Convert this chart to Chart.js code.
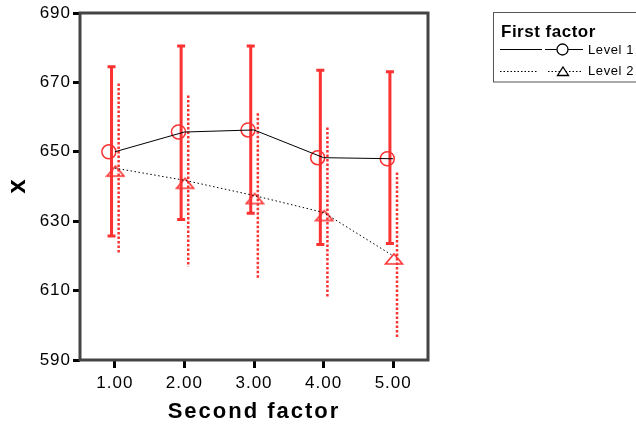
<!DOCTYPE html>
<html>
<head>
<meta charset="utf-8">
<script src="https://cdn.jsdelivr.net/npm/chart.js@4"></script>
<style>
  body { margin: 0; background: #fff; }
</style>
</head>
<body>
<canvas id="myChart" width="636" height="424"></canvas>
<script>
// datos
const categories = [1, 2, 3, 4, 5];
const tickLabels = ['1.00', '2.00', '3.00', '4.00', '5.00'];
const yTicks = [590, 610, 630, 650, 670, 690];

const level1Means = [650.0, 655.7, 656.3, 648.3, 648.0];
const level1Upper = [674.5, 680.5, 680.5, 673.5, 673.1];
const level1Lower = [625.7, 630.5, 632.3, 623.3, 623.6];

const level2Means = [645.3, 641.8, 637.4, 632.5, 620.0];
const level2Upper = [669.7, 666.2, 661.1, 657.0, 644.0];
const level2Lower = [620.9, 616.9, 613.4, 608.1, 596.3];

// desplazamientos horizontales (unidades del eje x)
const circleShift = -0.085;
const triangleShift = 0.01;
const bar1Shift = -0.047;
const bar2Shift = 0.055;

const red = 'rgb(250, 50, 50)';
const font = 'Liberation Sans';

// triangulo como imagen (el punto queda cerca del vertice superior)
const tri = document.createElement('canvas');
tri.width = 20;
tri.height = 26;
{
  const t = tri.getContext('2d');
  t.strokeStyle = red;
  t.lineWidth = 1.6;
  t.beginPath();
  t.moveTo(10, 11);
  t.lineTo(18.5, 21);
  t.lineTo(1.5, 21);
  t.closePath();
  t.stroke();
}

const errorBars = {
  id: 'errorBars',
  beforeDatasetsDraw(chart) {
    const ctx = chart.ctx;
    const xs = chart.scales.x;
    const ys = chart.scales.y;
    ctx.save();
    ctx.strokeStyle = red;
    // nivel 1: barras solidas con remates
    ctx.lineWidth = 3;
    categories.forEach((c, i) => {
      const x = xs.getPixelForValue(c + bar1Shift);
      const yt = ys.getPixelForValue(level1Upper[i]);
      const yb = ys.getPixelForValue(level1Lower[i]);
      ctx.beginPath();
      ctx.moveTo(x, yt); ctx.lineTo(x, yb);
      ctx.moveTo(x - 4, yt); ctx.lineTo(x + 4, yt);
      ctx.moveTo(x - 4, yb); ctx.lineTo(x + 4, yb);
      ctx.stroke();
    });
    // nivel 2: barras punteadas
    ctx.lineWidth = 2.5;
    ctx.setLineDash([2.5, 2]);
    categories.forEach((c, i) => {
      const x = xs.getPixelForValue(c + bar2Shift);
      const yt = ys.getPixelForValue(level2Upper[i]);
      const yb = ys.getPixelForValue(level2Lower[i]);
      ctx.beginPath();
      ctx.moveTo(x, yt); ctx.lineTo(x, yb);
      ctx.stroke();
    });
    ctx.restore();
  }
};

const decor = {
  id: 'decor',
  beforeDraw(chart) {
    chart.ctx.letterSpacing = '1px';
  },
  afterDraw(chart) {
    const ctx = chart.ctx;
    const a = chart.chartArea;
    ctx.save();
    // marco
    ctx.strokeStyle = '#444';
    ctx.lineWidth = 3;
    ctx.strokeRect(a.left, a.top, a.right - a.left, a.bottom - a.top);

    // titulos de ejes
    ctx.fillStyle = '#000';
    ctx.letterSpacing = '2px';
    ctx.font = 'bold 22px "' + font + '"';
    ctx.textAlign = 'center';
    ctx.textBaseline = 'alphabetic';
    ctx.fillText('Second factor', (a.left + a.right) / 2, 418);
    ctx.save();
    ctx.letterSpacing = '0px';
    ctx.translate(25, (a.top + a.bottom) / 2);
    ctx.rotate(-Math.PI / 2);
    ctx.font = 'bold 26px "' + font + '"';
    ctx.fillText('x', 0, 0);
    ctx.restore();

    // leyenda
    ctx.strokeStyle = '#555';
    ctx.lineWidth = 1;
    ctx.strokeRect(493.5, 12.5, 150, 69.5);
    ctx.letterSpacing = '0.5px';
    ctx.font = 'bold 17px "' + font + '"';
    ctx.textAlign = 'left';
    ctx.fillText('First factor', 501, 37);

    ctx.strokeStyle = '#000';
    ctx.beginPath();
    ctx.moveTo(500, 49.5); ctx.lineTo(542, 49.5);
    ctx.moveTo(545, 49.5); ctx.lineTo(583, 49.5);
    ctx.stroke();
    ctx.setLineDash([1.5, 2]);
    ctx.beginPath();
    ctx.moveTo(500, 71.5); ctx.lineTo(538, 71.5);
    ctx.moveTo(548, 71.5); ctx.lineTo(583, 71.5);
    ctx.stroke();
    ctx.setLineDash([]);
    ctx.lineWidth = 1.3;
    ctx.fillStyle = '#fff';
    ctx.beginPath();
    ctx.arc(562.5, 49.5, 5.5, 0, Math.PI * 2);
    ctx.fill();
    ctx.stroke();
    ctx.beginPath();
    ctx.moveTo(563, 67); ctx.lineTo(568.5, 75.5); ctx.lineTo(557.5, 75.5); ctx.closePath();
    ctx.fill();
    ctx.stroke();

    ctx.fillStyle = '#000';
    ctx.letterSpacing = '0.6px';
    ctx.font = '13px "' + font + '"';
    ctx.textBaseline = 'middle';
    ctx.fillText('Level 1', 588, 50);
    ctx.fillText('Level 2', 588, 71.5);
    ctx.restore();
  }
};

const ctx = document.getElementById('myChart');

new Chart(ctx, {
  type: 'line',
  data: {
    datasets: [
      {
        label: 'Level 1',
        data: categories.map((c, i) => ({ x: c, y: level1Means[i] })),
        borderColor: '#000',
        borderWidth: 1,
        pointRadius: 0
      },
      {
        label: 'Level 2',
        data: categories.map((c, i) => ({ x: c, y: level2Means[i] })),
        borderColor: '#000',
        borderWidth: 1,
        borderDash: [1.5, 2.5],
        pointRadius: 0
      },
      {
        label: 'Level 1 puntos',
        data: categories.map((c, i) => ({ x: c + circleShift, y: level1Means[i] })),
        showLine: false,
        pointStyle: 'circle',
        pointRadius: 7,
        pointBorderWidth: 1.5,
        pointBorderColor: red,
        pointBackgroundColor: 'rgba(0,0,0,0)'
      },
      {
        label: 'Level 2 puntos',
        data: categories.map((c, i) => ({ x: c + triangleShift, y: level2Means[i] })),
        showLine: false,
        pointStyle: tri,
        pointRadius: 8
      }
    ]
  },
  options: {
    responsive: false,
    animation: false,
    layout: { padding: { top: 13, right: 208, left: 0, bottom: 0 } },
    plugins: { legend: { display: false }, tooltip: { enabled: false } },
    scales: {
      x: {
        type: 'linear',
        min: 0.5,
        max: 5.5,
        afterBuildTicks: (scale) => { scale.ticks = categories.map(v => ({ value: v })); },
        afterFit: (scale) => { scale.height = 64; },
        ticks: {
          color: '#000',
          font: { family: font, size: 17 },
          padding: 5,
          callback: (v) => tickLabels[categories.indexOf(v)]
        },
        grid: { drawOnChartArea: false, tickLength: 8, tickWidth: 3, tickColor: '#000' },
        border: { display: false }
      },
      y: {
        min: 590,
        max: 690,
        afterBuildTicks: (scale) => { scale.ticks = yTicks.map(v => ({ value: v })); },
        afterFit: (scale) => { scale.width = 80; },
        ticks: {
          color: '#000',
          font: { family: font, size: 17 },
          padding: 2
        },
        grid: { drawOnChartArea: false, tickLength: 7, tickWidth: 3, tickColor: '#000' },
        border: { display: false }
      }
    }
  },
  plugins: [errorBars, decor]
});
</script>
</body>
</html>
